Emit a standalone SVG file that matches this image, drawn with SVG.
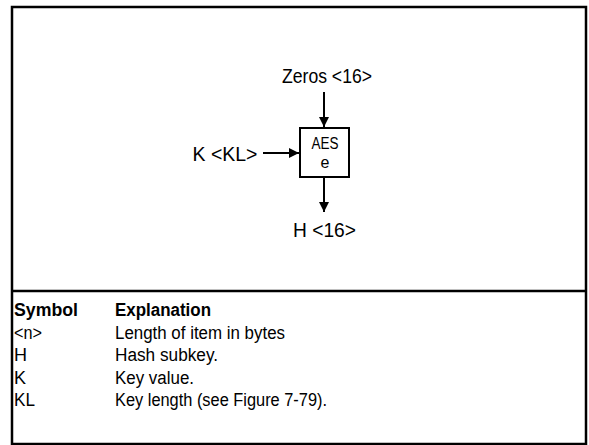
<svg xmlns="http://www.w3.org/2000/svg" width="589" height="445" viewBox="0 0 589 445">
<style>
.lbl{font-family:"Liberation Sans",Arial,sans-serif;font-size:21px;fill:#000}
.box{fill:#fff;stroke:#000;stroke-width:2}
.conn{stroke:#000;stroke-width:2;fill:none}
.tbl{font-family:"Liberation Sans",Arial,sans-serif;font-size:18px;fill:#000}
.hdr{font-weight:bold}
.in{font-family:"Liberation Sans",Arial,sans-serif;font-size:16px;fill:#000}
</style>
<defs>
<marker id="ah" viewBox="0 0 10 10" refX="10" refY="5" markerWidth="10" markerHeight="10" markerUnits="userSpaceOnUse" orient="auto">
<path d="M0,0 L10,5 L0,10 Z" fill="#000"/>
</marker>
</defs>
<rect x="12" y="7" width="574" height="437" fill="none" stroke="#000" stroke-width="2.5"/>
<line x1="12" y1="291" x2="586" y2="291" stroke="#000" stroke-width="2.5"/>
<g id="connectors">
<line class="conn" x1="324" y1="92" x2="324" y2="127" marker-end="url(#ah)"/>
<line class="conn" x1="263" y1="153" x2="299" y2="153" marker-end="url(#ah)"/>
<line class="conn" x1="324" y1="178" x2="324" y2="212" marker-end="url(#ah)"/>
</g>
<g id="zeros"><text class="lbl" x="327" y="83" text-anchor="middle" textLength="90" lengthAdjust="spacingAndGlyphs">Zeros &lt;16&gt;</text></g>
<g id="key"><text class="lbl" x="225" y="161" text-anchor="middle" textLength="65" lengthAdjust="spacingAndGlyphs">K &lt;KL&gt;</text></g>
<g id="aes">
<rect class="box" x="300" y="128" width="49" height="49"/>
<text class="in" x="325" y="149" text-anchor="middle" textLength="27" lengthAdjust="spacingAndGlyphs">AES</text>
<text class="in" x="325" y="168" text-anchor="middle">e</text>
</g>
<g id="hout"><text class="lbl" x="324.5" y="237" text-anchor="middle" textLength="63" lengthAdjust="spacingAndGlyphs">H &lt;16&gt;</text></g>
<g id="legend">
<text class="tbl hdr" x="14" y="316" textLength="64" lengthAdjust="spacingAndGlyphs">Symbol</text>
<text class="tbl hdr" x="115" y="316" textLength="96" lengthAdjust="spacingAndGlyphs">Explanation</text>
<text class="tbl" x="14" y="338.5" textLength="28" lengthAdjust="spacingAndGlyphs">&lt;n&gt;</text>
<text class="tbl" x="115" y="338.5" textLength="170" lengthAdjust="spacingAndGlyphs">Length of item in bytes</text>
<text class="tbl" x="14" y="361">H</text>
<text class="tbl" x="115" y="361" textLength="103" lengthAdjust="spacingAndGlyphs">Hash subkey.</text>
<text class="tbl" x="14" y="383.5">K</text>
<text class="tbl" x="115" y="383.5" textLength="79" lengthAdjust="spacingAndGlyphs">Key value.</text>
<text class="tbl" x="14" y="406" textLength="21" lengthAdjust="spacingAndGlyphs">KL</text>
<text class="tbl" x="115" y="406" textLength="212" lengthAdjust="spacingAndGlyphs">Key length (see Figure 7-79).</text>
</g>
</svg>
